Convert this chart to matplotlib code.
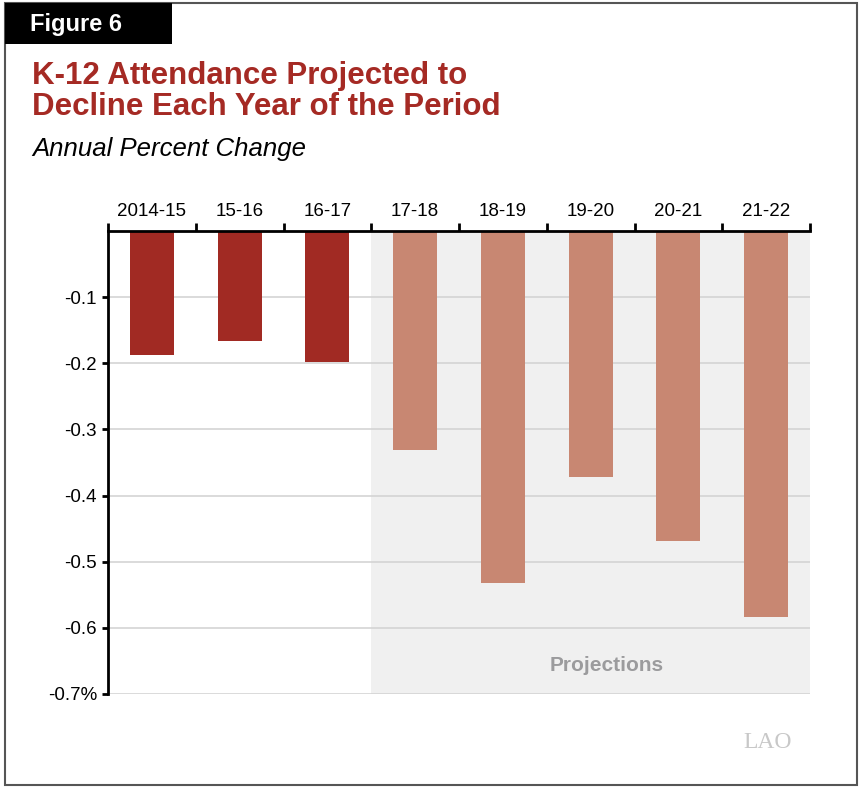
import matplotlib.pyplot as plt
from matplotlib.patches import Rectangle
from matplotlib.ticker import FixedLocator

plt.rcParams["font.family"] = ["Liberation Sans", "DejaVu Sans"]

# --- Data ---
years = ["2014-15", "15-16", "16-17", "17-18", "18-19", "19-20", "20-21", "21-22"]
pct_change = [-0.187, -0.166, -0.198, -0.331, -0.532, -0.372, -0.468, -0.584]
projected = [False, False, False, True, True, True, True, True]
y_ticks = [-0.1, -0.2, -0.3, -0.4, -0.5, -0.6, -0.7]
y_labels = ["-0.1", "-0.2", "-0.3", "-0.4", "-0.5", "-0.6", "-0.7%"]

# --- Colours ---
ACTUAL = "#A12A23"
PROJ = "#C88772"
TITLE_RED = "#A52A24"
SHADE = "#F0F0F0"

W, H = 859, 787
fig = plt.figure(figsize=(W / 100, H / 100), dpi=100)

# outer frame
fig.patches.append(Rectangle((5 / W, 2 / H), 852 / W, 782 / H, transform=fig.transFigure,
                             fill=False, edgecolor="#555555", linewidth=1.5))
# "Figure 6" tab
fig.patches.append(Rectangle((5 / W, 1 - 44 / H), 167 / W, 41 / H, transform=fig.transFigure,
                             facecolor="black", edgecolor="none"))
fig.text(30 / W, 1 - 24 / H, "Figure 6", color="white", fontsize=17, fontweight="bold",
         va="center", ha="left")

fig.text(32 / W, 1 - 76 / H, "K-12 Attendance Projected to", color=TITLE_RED,
         fontsize=22.5, fontweight="bold", va="center", ha="left")
fig.text(32 / W, 1 - 107 / H, "Decline Each Year of the Period", color=TITLE_RED,
         fontsize=22.5, fontweight="bold", va="center", ha="left")
fig.text(32 / W, 1 - 149 / H, "Annual Percent Change", color="black",
         fontsize=18.5, style="italic", va="center", ha="left")

# --- Axes ---
ax_l, ax_r, ax_t, ax_b = 108, 810, 231, 694
ax = fig.add_axes([ax_l / W, 1 - ax_b / H, (ax_r - ax_l) / W, (ax_b - ax_t) / H])

x = list(range(len(years)))
colors = [PROJ if p else ACTUAL for p in projected]
ax.bar(x, pct_change, width=0.5, color=colors, zorder=3)

first_proj = projected.index(True)
ax.axvspan(first_proj - 0.5, len(years) - 0.5, color=SHADE, zorder=0, lw=0)
ax.text(0.711, 0.062, "Projections", transform=ax.transAxes,
        color="#9B9B9D", fontsize=15, fontweight="bold", ha="center", va="center", zorder=4)

ax.set_xlim(-0.5, len(years) - 0.5)
ax.set_ylim(-0.7, 0)

ax.set_yticks(y_ticks)
ax.set_yticklabels(y_labels)
for yv in y_ticks:
    ax.axhline(yv, color="#D4D4D4", lw=1.2, zorder=1)

ax.xaxis.tick_top()
ax.set_xticks(x)
ax.set_xticklabels(years)
ax.xaxis.set_minor_locator(FixedLocator([i - 0.5 for i in range(len(years) + 1)]))
ax.tick_params(axis="x", which="major", length=0, pad=8, labelsize=13.5)
ax.tick_params(axis="x", which="minor", length=6, width=2, color="black", direction="out")
ax.tick_params(axis="y", length=4, width=2, pad=4, labelsize=13.5)

for s in ["right", "bottom"]:
    ax.spines[s].set_visible(False)
ax.spines["left"].set_linewidth(2)
ax.spines["top"].set_linewidth(2)
ax.spines["top"].set_zorder(5)

# LAO mark
fig.text(792 / W, 1 - 743 / H, "LAO", color="#C8C8C8", fontsize=17, family="Liberation Serif",
         ha="right", va="center")

fig.savefig("out.png", dpi=100)
